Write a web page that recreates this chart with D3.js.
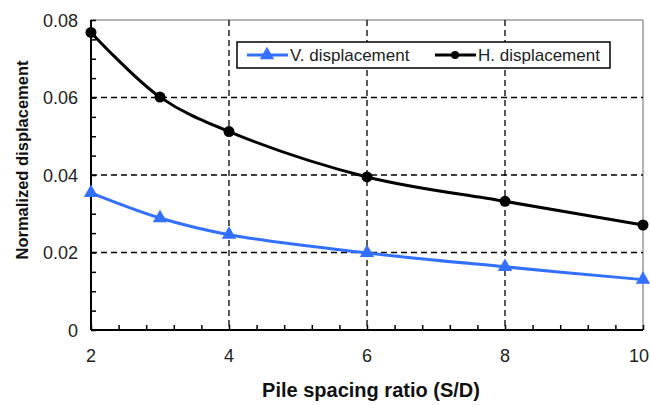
<!DOCTYPE html>
<html><head><meta charset="utf-8">
<script src="https://cdn.jsdelivr.net/npm/d3@7"></script>
<style>body{margin:0;background:#fff}svg{display:block}</style>
</head><body>
<svg id="c" width="650" height="405"></svg>
<script>
const spacing = [2, 3, 4, 6, 8, 10];
const vDisp = [0.0354, 0.0289, 0.0246, 0.0199, 0.0163, 0.0130];
const hDisp = [0.0768, 0.0601, 0.0512, 0.0395, 0.0332, 0.0271];
const xTicks = [2, 4, 6, 8, 10];
const yTicks = [0, 0.02, 0.04, 0.06, 0.08];
const yTickLabels = ["0", "0.02", "0.04", "0.06", "0.08"];
const seriesNames = ["V. displacement", "H. displacement"];

const svg = d3.select("#c");
const L = 91, R = 643, T = 20, B = 330;
const x = d3.scaleLinear().domain([2, 10]).range([L, R]);
const y = d3.scaleLinear().domain([0, 0.08]).range([B, T]);
const font = "Arial, 'Liberation Sans', sans-serif";

// plot border top/right
svg.append("line").attr("x1", L).attr("x2", R).attr("y1", T).attr("y2", T).attr("stroke", "#9a9a9a").attr("stroke-width", 1.5);
svg.append("line").attr("x1", R).attr("x2", R).attr("y1", T).attr("y2", B).attr("stroke", "#9a9a9a").attr("stroke-width", 1.5);

// grid
const g = svg.append("g").attr("stroke", "#000").attr("stroke-width", 1.3).attr("stroke-dasharray", "6,4");
yTicks.filter(v => v > 0 && v < 0.08).forEach(v => g.append("line").attr("x1", L).attr("x2", R).attr("y1", y(v)).attr("y2", y(v)));
xTicks.filter(v => v > 2 && v < 10).forEach(v => g.append("line").attr("x1", x(v)).attr("x2", x(v)).attr("y1", T).attr("y2", B));

// axes
const xAxisMinor = d3.axisTop(x).tickValues(d3.range(2, 10.01, 0.4)).tickSize(5).tickFormat("");
const xg = svg.append("g").attr("transform", `translate(0,${B})`).call(xAxisMinor);
const yAxisMinor = d3.axisRight(y).tickValues(d3.range(0, 0.0801, 0.005)).tickSize(5).tickFormat("");
const yg = svg.append("g").attr("transform", `translate(${L},0)`).call(yAxisMinor);
[xg, yg].forEach(a => { a.selectAll("path").attr("stroke", "#000").attr("stroke-width", 2); a.selectAll("line").attr("stroke", "#000").attr("stroke-width", 1.5); });
xg.select("path").attr("d", `M${L},0H${R}`);
yg.select("path").attr("d", `M0,${B}V${T}`);

// tick labels
svg.append("g").selectAll("text").data(xTicks).join("text")
  .attr("x", d => d === 10 ? 649 : x(d)).attr("y", 362)
  .attr("text-anchor", d => d === 10 ? "end" : "middle")
  .attr("font-family", font).attr("font-size", 18).attr("fill", "#222").text(d => d);
svg.append("g").selectAll("text").data(yTicks).join("text")
  .attr("x", 78).attr("y", d => y(d) + 6.5).attr("text-anchor", "end")
  .attr("font-family", font).attr("font-size", 18).attr("fill", "#222").text((d, i) => yTickLabels[i]);

// axis titles
svg.append("text").attr("x", 371).attr("y", 397).attr("text-anchor", "middle")
  .attr("font-family", font).attr("font-size", 20).attr("font-weight", "bold").attr("fill", "#111")
  .text("Pile spacing ratio (S/D)");
svg.append("text").attr("transform", "translate(28,160) rotate(-90)").attr("text-anchor", "middle")
  .attr("font-family", font).attr("font-size", 16.5).attr("font-weight", "bold").attr("fill", "#111")
  .text("Normalized displacement");

// lines
const line = d3.line().x(d => x(d[0])).y(d => y(d[1])).curve(d3.curveCatmullRom.alpha(0.5));
const vData = spacing.map((s, i) => [s, vDisp[i]]);
const hData = spacing.map((s, i) => [s, hDisp[i]]);
const blue = "#3370ff";
svg.append("path").datum(vData).attr("d", line).attr("fill", "none").attr("stroke", blue).attr("stroke-width", 3);
svg.append("path").datum(hData).attr("d", line).attr("fill", "none").attr("stroke", "#000").attr("stroke-width", 3);
const tri = d3.symbol().type(d3.symbolTriangle).size(90);
svg.append("g").selectAll("path").data(vData).join("path")
  .attr("transform", d => `translate(${x(d[0])},${y(d[1])})`).attr("d", tri).attr("fill", blue);
svg.append("g").selectAll("circle").data(hData).join("circle")
  .attr("cx", d => x(d[0])).attr("cy", d => y(d[1])).attr("r", 5.5).attr("fill", "#000");

// legend
const lg = svg.append("g");
lg.append("rect").attr("x", 237).attr("y", 42).attr("width", 373).attr("height", 26)
  .attr("fill", "#fff").attr("stroke", "#000").attr("stroke-width", 1.5);
lg.append("line").attr("x1", 247).attr("x2", 288).attr("y1", 55).attr("y2", 55).attr("stroke", blue).attr("stroke-width", 3);
lg.append("path").attr("transform", "translate(267,55)").attr("d", tri).attr("fill", blue);
lg.append("text").attr("x", 290).attr("y", 61).attr("font-family", font).attr("font-size", 17).attr("fill", "#222").text(seriesNames[0]);
lg.append("line").attr("x1", 435).attr("x2", 476).attr("y1", 55).attr("y2", 55).attr("stroke", "#000").attr("stroke-width", 3);
lg.append("circle").attr("cx", 455).attr("cy", 55).attr("r", 4).attr("fill", "#000");
lg.append("text").attr("x", 478).attr("y", 61).attr("font-family", font).attr("font-size", 17).attr("fill", "#222").text(seriesNames[1]);
</script>
</body></html>
